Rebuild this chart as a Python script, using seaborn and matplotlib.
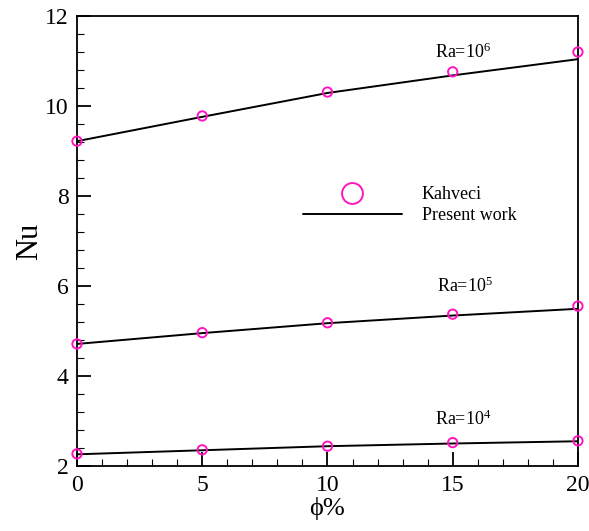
import numpy as np
import pandas as pd
import matplotlib
matplotlib.use("Agg")
import matplotlib.pyplot as plt
import seaborn as sns
from matplotlib.lines import Line2D
from matplotlib.ticker import MultipleLocator

phi = [0, 5, 10, 15, 20]
ra_labels = ["1e4", "1e5", "1e6"]
kahveci = {
    "1e4": [2.28, 2.37, 2.45, 2.53, 2.57],
    "1e5": [4.72, 4.97, 5.19, 5.38, 5.56],
    "1e6": [9.22, 9.78, 10.31, 10.76, 11.20],
}
present = {
    "1e4": [2.27, 2.36, 2.45, 2.51, 2.56],
    "1e5": [4.72, 4.96, 5.18, 5.35, 5.50],
    "1e6": [9.22, 9.76, 10.29, 10.68, 11.04],
}
label_pos = {"1e4": (15.4, 3.05), "1e5": (15.5, 6.0), "1e6": (15.4, 11.2)}
label_txt = {"1e4": "Ra=10$^4$", "1e5": "Ra=10$^5$", "1e6": "Ra=10$^6$"}

magenta = "#ff14c0"

sns.set_style("ticks")
plt.rcParams["font.family"] = ["Liberation Serif", "DejaVu Serif"]
plt.rcParams["mathtext.fontset"] = "custom"
plt.rcParams["mathtext.rm"] = "Liberation Serif"
plt.rcParams["mathtext.it"] = "Liberation Serif"
plt.rcParams["text.color"] = "black"
plt.rcParams["axes.labelcolor"] = "black"
plt.rcParams["xtick.color"] = "black"
plt.rcParams["ytick.color"] = "black"

rows = []
for ra in ra_labels:
    for x, k, p in zip(phi, kahveci[ra], present[ra]):
        rows.append({"phi": x, "Ra": ra, "kahveci": k, "present": p})
df = pd.DataFrame(rows)

fig = plt.figure(figsize=(5.89, 5.31), dpi=100)
ax = fig.add_axes([0.1307, 0.1215, 0.8505, 0.8485])

for ra in ra_labels:
    sub = df[df["Ra"] == ra]
    sns.lineplot(data=sub, x="phi", y="present", ax=ax, color="black",
                 linewidth=1.4, legend=False)
    sns.scatterplot(data=sub, x="phi", y="kahveci", ax=ax, marker="o",
                    s=45, facecolor="none", edgecolor=magenta, linewidth=1.4,
                    legend=False, zorder=5, clip_on=False)
    ax.text(*label_pos[ra], label_txt[ra], ha="center", va="center", fontsize=13)

ax.set_xlim(0, 20)
ax.set_ylim(2, 12)
ax.xaxis.set_major_locator(MultipleLocator(5))
ax.xaxis.set_minor_locator(MultipleLocator(1))
ax.yaxis.set_major_locator(MultipleLocator(2))
ax.yaxis.set_minor_locator(MultipleLocator(0.4))
ax.tick_params(which="major", direction="in", length=10, width=1.3, labelsize=17, pad=6)
ax.tick_params(which="minor", direction="in", length=5, width=0.8)
ax.tick_params(top=False, right=False, which="both")
for sp in ax.spines.values():
    sp.set_linewidth(1.3)
    sp.set_color("black")

ax.set_xlabel("ϕ%", fontsize=19, labelpad=1)
ax.set_ylabel("Nu", fontsize=22, labelpad=1)

handles = [
    Line2D([], [], marker="o", color="none", markerfacecolor="none",
           markeredgecolor=magenta, markersize=15, markeredgewidth=1.4, label="Kahveci"),
    Line2D([], [], color="black", linewidth=1.4, label="Present work"),
]
ax.legend(handles=handles, loc="center left", bbox_to_anchor=(0.418, 0.58),
          frameon=False, fontsize=13, handlelength=5.5, labelspacing=0.2,
          handletextpad=1.1)

fig.savefig("out.png", dpi=100)
